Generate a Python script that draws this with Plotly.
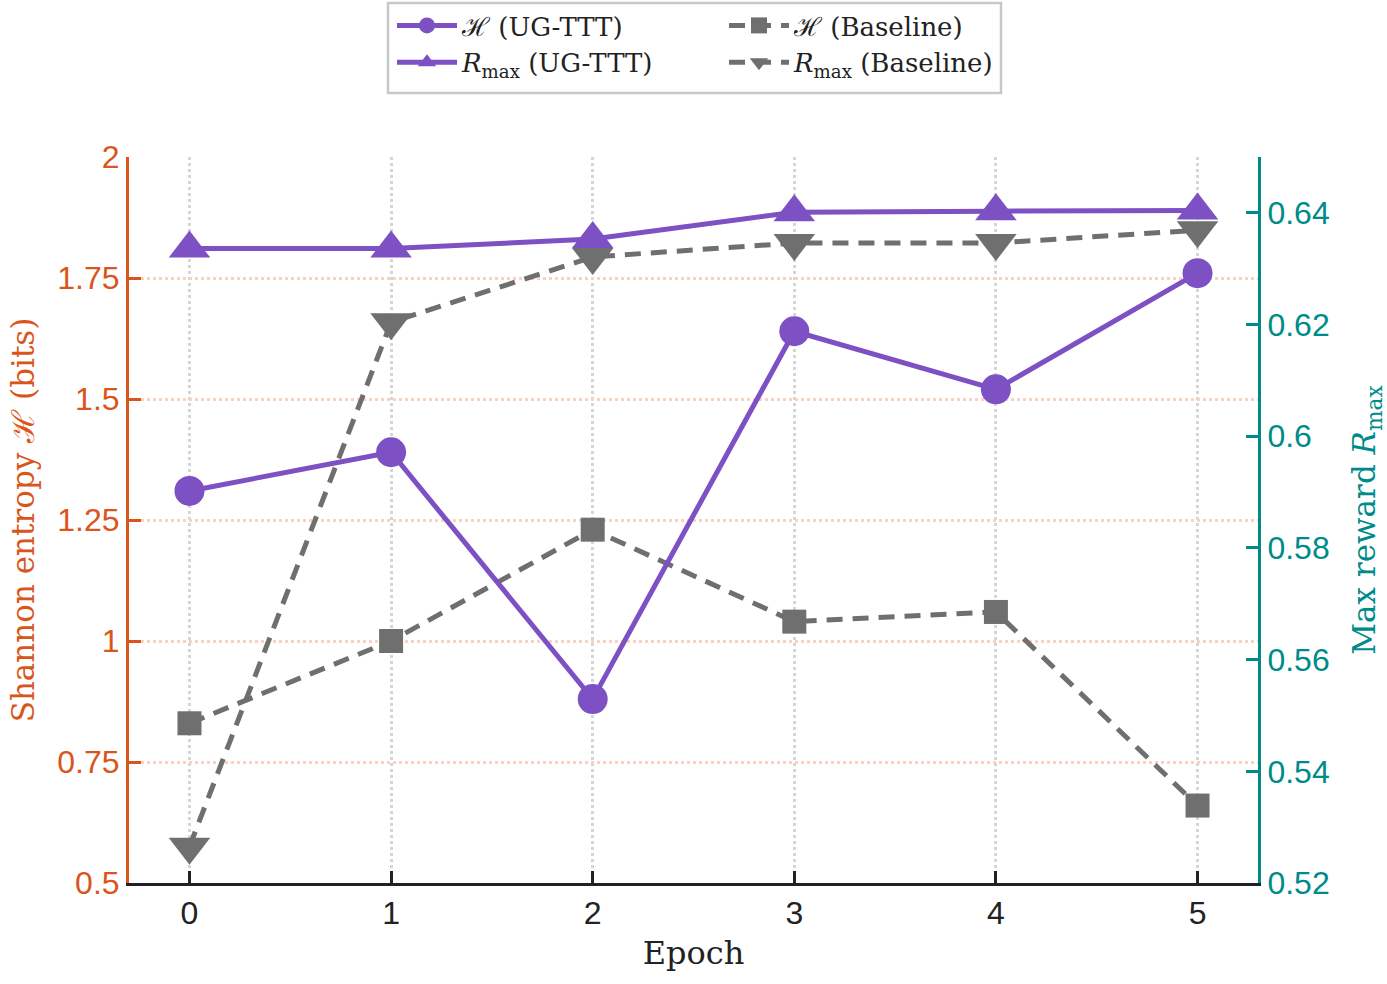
import plotly.graph_objects as go

epochs = [0, 1, 2, 3, 4, 5]
h_ugttt = [1.31, 1.39, 0.88, 1.64, 1.52, 1.76]
h_base = [0.83, 1.00, 1.23, 1.04, 1.06, 0.66]
r_ugttt = [0.6336, 0.6336, 0.6353, 0.6401, 0.6403, 0.6404]
r_base = [0.5265, 0.6204, 0.6321, 0.6346, 0.6346, 0.6369]

left_ticks = [0.5, 0.75, 1.0, 1.25, 1.5, 1.75, 2.0]
left_labels = ["0.5", "0.75", "1", "1.25", "1.5", "1.75", "2"]
right_ticks = [0.52, 0.54, 0.56, 0.58, 0.60, 0.62, 0.64]
right_labels = ["0.52", "0.54", "0.56", "0.58", "0.6", "0.62", "0.64"]

PURPLE = "#7d51c3"
GRAY = "#6f6f6f"
ORANGE = "#da551b"
TEAL = "#008b8b"
SERIF = "DejaVu Serif"
SANS = "Liberation Sans"
DASH = "16px,10px"

fig = go.Figure()
# reward traces on the base (right-side) axis
fig.add_trace(go.Scatter(x=epochs, y=r_base, mode="lines+markers",
                         name="<i>R</i><sub>max</sub> (Baseline)",
                         line=dict(color=GRAY, width=5, dash=DASH),
                         marker=dict(symbol="triangle-down", size=36, color=GRAY),
                         yaxis="y", legend="legend2", legendrank=2))
fig.add_trace(go.Scatter(x=epochs, y=r_ugttt, mode="lines+markers",
                         name="<i>R</i><sub>max</sub> (UG-TTT)",
                         line=dict(color=PURPLE, width=5),
                         marker=dict(symbol="triangle-up", size=36, color=PURPLE),
                         yaxis="y", legend="legend", legendrank=2))
# entropy traces on the overlaying (left-side) axis
fig.add_trace(go.Scatter(x=epochs, y=h_base, mode="lines+markers", name="ℋ (Baseline)",
                         line=dict(color=GRAY, width=5, dash=DASH),
                         marker=dict(symbol="square", size=24, color=GRAY),
                         yaxis="y2", legend="legend2", legendrank=1))
fig.add_trace(go.Scatter(x=epochs, y=h_ugttt, mode="lines+markers", name="ℋ (UG-TTT)",
                         line=dict(color=PURPLE, width=5),
                         marker=dict(symbol="circle", size=30, color=PURPLE),
                         yaxis="y2", legend="legend", legendrank=1))

W, H = 1387, 984
L, R, T, B = 129, 129, 157, 101
pw, ph = W - L - R, H - T - B


def px(xp):
    return (xp - L) / pw


def py(yp):
    return 1 + (T - yp) / ph


fig.update_layout(
    width=W, height=H,
    margin=dict(l=L, r=R, t=T, b=B, autoexpand=False),
    paper_bgcolor="white", plot_bgcolor="white",
    font=dict(family=SANS, size=32, color="#222222"),
    xaxis=dict(
        range=[-0.3, 5.3], tickvals=epochs, ticktext=[str(e) for e in epochs],
        showline=True, linecolor="#222222", linewidth=3,
        ticks="inside", ticklen=12, tickwidth=3, tickcolor="#222222",
        tickfont=dict(family=SANS, size=32, color="#222222"),
        showgrid=True, gridcolor="#d6d6d6", gridwidth=3, griddash="dot",
        zeroline=False,
        title=dict(text="Epoch", font=dict(family=SERIF, size=32, color="#222222"), standoff=12),
    ),
    yaxis=dict(
        range=[0.52, 0.65], tickvals=right_ticks, ticktext=right_labels,
        side="right",
        showline=True, linecolor=TEAL, linewidth=3,
        ticks="inside", ticklen=12, tickwidth=3, tickcolor=TEAL,
        tickfont=dict(family=SANS, size=32, color=TEAL),
        showgrid=False, zeroline=False,
        title=dict(text="Max reward <i>R</i><sub>max</sub>", font=dict(family=SERIF, size=31, color=TEAL), standoff=26),
    ),
    yaxis2=dict(
        range=[0.5, 2.0], tickvals=left_ticks, ticktext=left_labels,
        overlaying="y", side="left",
        showline=True, linecolor=ORANGE, linewidth=3,
        ticks="inside", ticklen=12, tickwidth=3, tickcolor=ORANGE,
        tickfont=dict(family=SANS, size=32, color=ORANGE),
        showgrid=True, gridcolor="#f8d3c3", gridwidth=2.5, griddash="dot",
        zeroline=False,
        title=dict(text="Shannon entropy ℋ (bits)", font=dict(family=SERIF, size=31, color=ORANGE), standoff=14),
    ),
    legend=dict(
        x=px(392), y=py(2), xanchor="left", yanchor="top",
        orientation="v", bgcolor="rgba(0,0,0,0)", borderwidth=0,
        font=dict(family=SERIF, size=26, color="#222222"),
        tracegroupgap=0, itemwidth=60,
    ),
    legend2=dict(
        x=px(724), y=py(2), xanchor="left", yanchor="top",
        orientation="v", bgcolor="rgba(0,0,0,0)", borderwidth=0,
        font=dict(family=SERIF, size=26, color="#222222"),
        tracegroupgap=0, itemwidth=60,
    ),
    shapes=[dict(type="rect", xref="paper", yref="paper",
                 x0=px(388), x1=px(1001), y0=py(93), y1=py(3),
                 line=dict(color="#c8c8c8", width=2.5), fillcolor="rgba(0,0,0,0)")],
)

fig.write_html("out.html")
